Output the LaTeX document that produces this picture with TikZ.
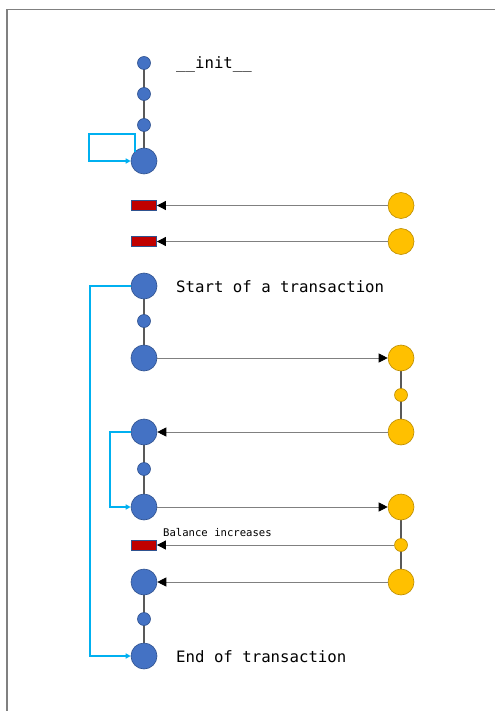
\documentclass[tikz,border=0pt]{standalone}
\usepackage{fontspec}
\setmonofont{DejaVu Sans Mono}
\usetikzlibrary{arrows.meta}
\definecolor{bfill}{HTML}{4472C4}
\definecolor{bdraw}{HTML}{2F528F}
\definecolor{ofill}{HTML}{FFC000}
\definecolor{odraw}{HTML}{BC8C00}
\definecolor{rfill}{HTML}{C00000}
\definecolor{cyanl}{HTML}{00B0F0}
\definecolor{conn}{HTML}{808080}
\definecolor{stem}{HTML}{595959}
\tikzset{
  bbig/.style={circle,fill=bfill,draw=bdraw,line width=0.6pt,minimum size=26pt,inner sep=0pt},
  bsmall/.style={circle,fill=bfill,draw=bdraw,line width=0.6pt,minimum size=13pt,inner sep=0pt},
  obig/.style={circle,fill=ofill,draw=odraw,line width=0.6pt,minimum size=26pt,inner sep=0pt},
  osmall/.style={circle,fill=ofill,draw=odraw,line width=0.6pt,minimum size=13pt,inner sep=0pt},
  redbox/.style={rectangle,fill=rfill,draw=bdraw,line width=0.8pt,minimum width=25pt,minimum height=10pt,inner sep=0pt},
  msg/.style={draw=conn,line width=0.8pt,-{Triangle[length=9pt,width=9pt,black]}},
  loopline/.style={draw=cyanl,line width=1.4pt,-{Triangle[length=5pt,width=5pt]}},
  stemline/.style={draw=stem,line width=1.4pt},
  lbl/.style={anchor=west,inner sep=0pt,font=\ttfamily\fontsize{15.7}{18}\selectfont},
  slbl/.style={anchor=west,inner sep=0pt,font=\ttfamily\fontsize{10.6}{12}\selectfont},
}
\begin{document}
\begin{tikzpicture}[x=1pt,y=-1pt]
\useasboundingbox (0,0) rectangle (495,711);
\coordinate (fa) at (7,711);
\coordinate (fb) at (7,9.5);
\coordinate (fc) at (495,9.5);
\draw[conn,line width=1.6pt] (fa) -- (fb) -- (fc);

% stems (drawn first)
\coordinate (s1a) at (144,63); \coordinate (s1b) at (144,161);
\coordinate (s2a) at (144,286); \coordinate (s2b) at (144,358);
\coordinate (s3a) at (144,432); \coordinate (s3b) at (144,507);
\coordinate (s4a) at (144,582); \coordinate (s4b) at (144,656);
\coordinate (s5a) at (401,358); \coordinate (s5b) at (401,432);
\coordinate (s6a) at (401,507); \coordinate (s6b) at (401,582);
\draw[stemline] (s1a) -- (s1b);
\draw[stemline] (s2a) -- (s2b);
\draw[stemline] (s3a) -- (s3b);
\draw[stemline] (s4a) -- (s4b);
\draw[stemline] (s5a) -- (s5b);
\draw[stemline] (s6a) -- (s6b);

% blue column
\node[bsmall] (b1) at (144,63) {};
\node[bsmall] (b2) at (144,94) {};
\node[bsmall] (b3) at (144,125) {};
\node[bbig] (b4) at (144,161) {};
\node[redbox] (r1) at (144,205.5) {};
\node[redbox] (r2) at (144,241.5) {};
\node[bbig] (b5) at (144,286) {};
\node[bsmall] (b6) at (144,321) {};
\node[bbig] (b7) at (144,358) {};
\node[bbig] (b8) at (144,432) {};
\node[bsmall] (b9) at (144,469) {};
\node[bbig] (b10) at (144,507) {};
\node[redbox] (r3) at (144,545) {};
\node[bbig] (b11) at (144,582) {};
\node[bsmall] (b12) at (144,619) {};
\node[bbig] (b13) at (144,656) {};

% orange column
\node[obig] (o1) at (401,205.5) {};
\node[obig] (o2) at (401,241.5) {};
\node[obig] (o3) at (401,358) {};
\node[osmall] (o4) at (401,395) {};
\node[obig] (o5) at (401,432) {};
\node[obig] (o6) at (401,507) {};
\node[osmall] (o7) at (401,545) {};
\node[obig] (o8) at (401,582) {};

% labels
\node[lbl] (t1) at (176,64) {\_\_init\_\_};
\node[lbl] (t2) at (176,287) {Start of a transaction};
\node[slbl] (t3) at (163,533) {Balance increases};
\node[lbl] (t4) at (176,657) {End of transaction};

% messages
\draw[msg] (o1.west) -- (r1.east);
\draw[msg] (o2.west) -- (r2.east);
\draw[msg] (b7.east) -- (o3.west);
\draw[msg] (o5.west) -- (b8.east);
\draw[msg] (b10.east) -- (o6.west);
\draw[msg] (o7.west) -- (r3.east);
\draw[msg] (o8.west) -- (b11.east);

% cyan loops
\coordinate (c0) at (135,152);
\coordinate (c1) at (135,134);
\coordinate (c2) at (89,134);
\coordinate (c3) at (89,161);
\draw[loopline] (c0) -- (c1) -- (c2) -- (c3) -- (b4.west);
\coordinate (c4) at (110,432);
\coordinate (c5) at (110,507);
\draw[loopline] (b8.west) -- (c4) -- (c5) -- (b10.west);
\coordinate (c6) at (90,286);
\coordinate (c7) at (90,656);
\draw[loopline] (b5.west) -- (c6) -- (c7) -- (b13.west);
\end{tikzpicture}
\end{document}
